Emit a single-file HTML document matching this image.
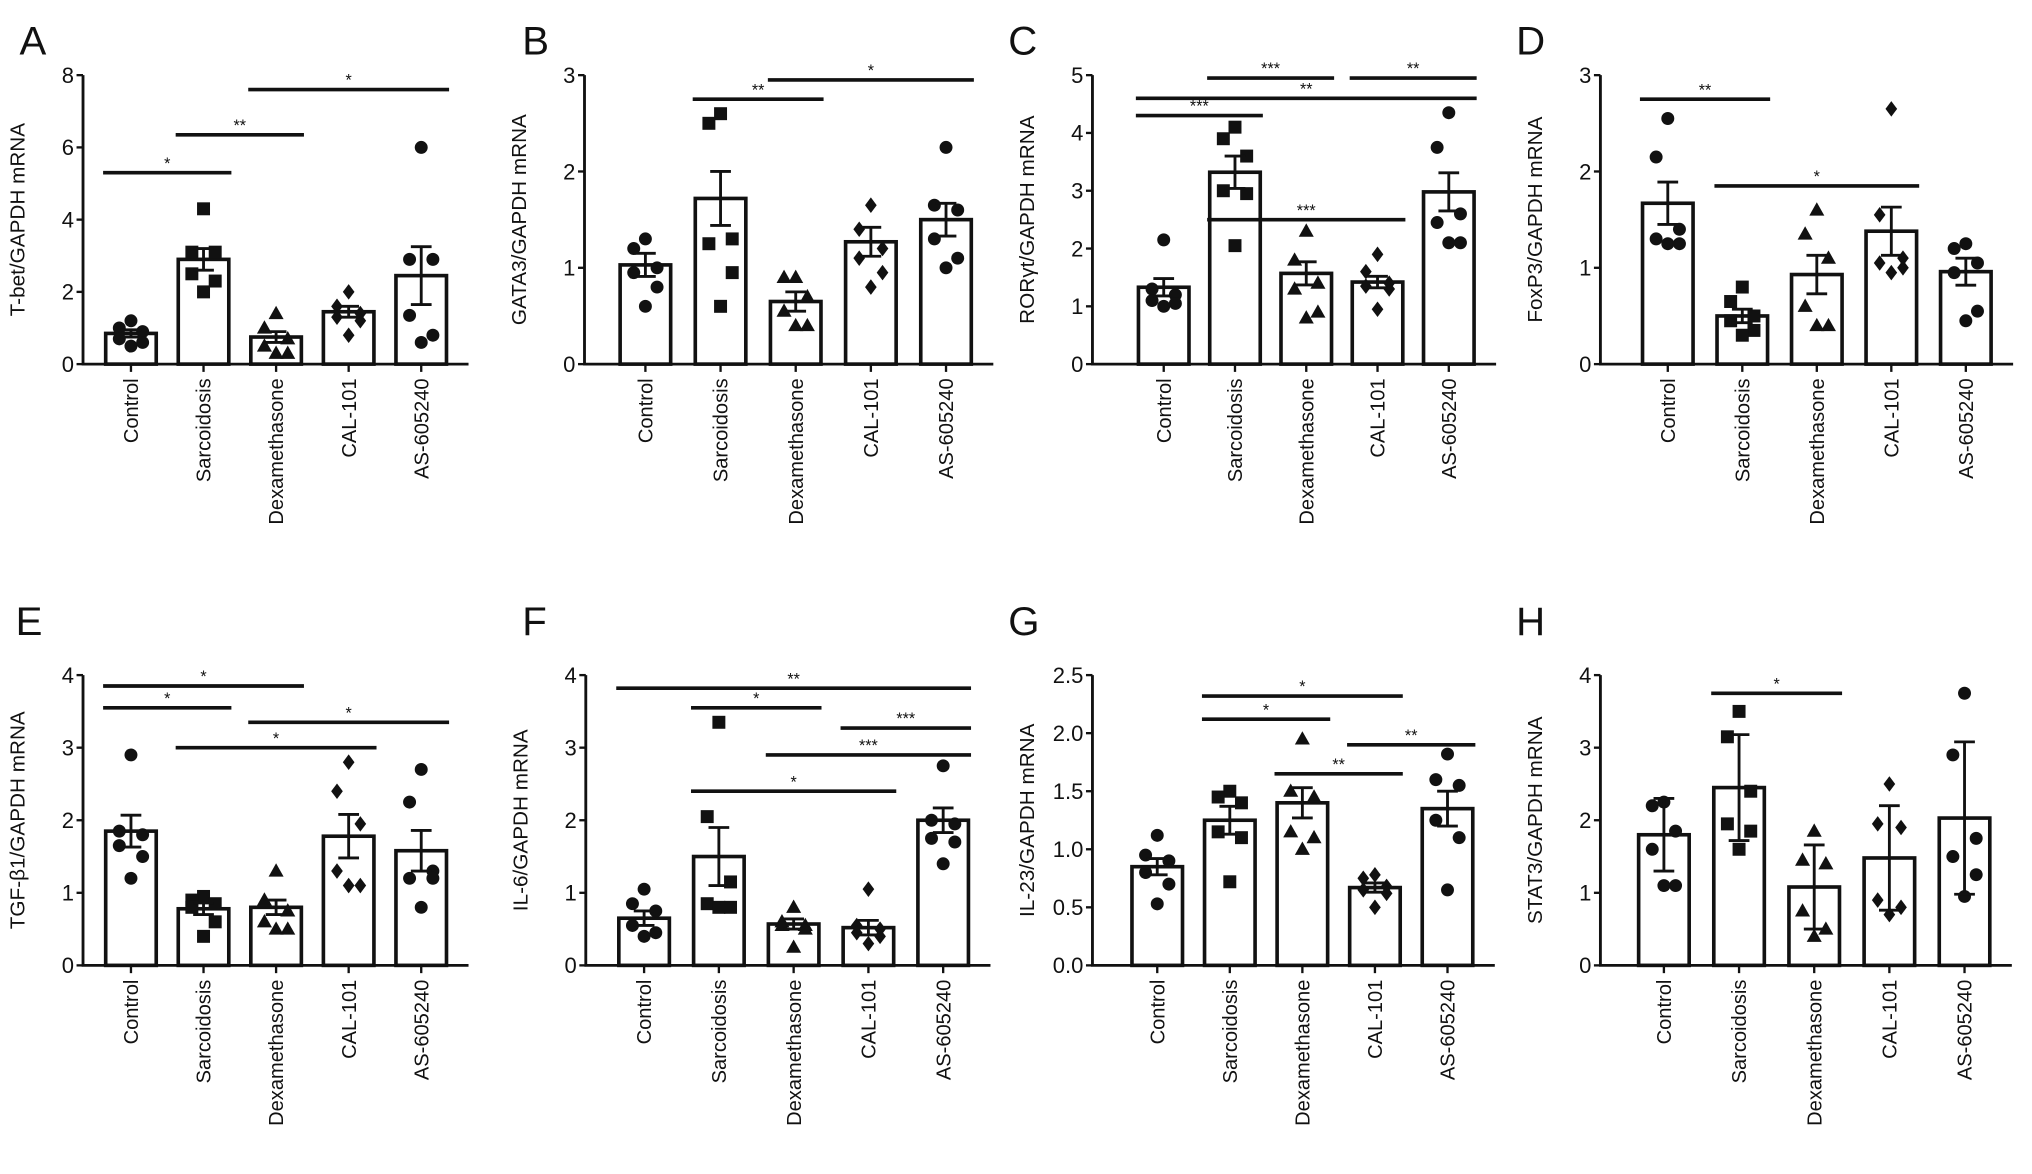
<!DOCTYPE html>
<html><head><meta charset="utf-8"><style>
html,body{margin:0;padding:0;background:#fff;}
svg{display:block;}
text{font-family:"Liberation Sans",sans-serif;fill:#111;}
</style></head><body>
<svg id="fig" width="2032" height="1174" viewBox="0 0 1568 906" xmlns="http://www.w3.org/2000/svg"></svg>
<script>
const categories = ["Control","Sarcoidosis","Dexamethasone","CAL-101","AS-605240"];
const panelLetters = ["A","B","C","D","E","F","G","H"];
const yTitles = ["T-bet/GAPDH mRNA","GATA3/GAPDH mRNA","RORγt/GAPDH mRNA","FoxP3/GAPDH mRNA","TGF-β1/GAPDH mRNA","IL-6/GAPDH mRNA","IL-23/GAPDH mRNA","STAT3/GAPDH mRNA"];
const yMax = [8,3,5,3,4,4,2.5,4];
const yTickLabels = [["0","2","4","6","8"],["0","1","2","3"],["0","1","2","3","4","5"],["0","1","2","3"],["0","1","2","3","4"],["0","1","2","3","4"],["0.0","0.5","1.0","1.5","2.0","2.5"],["0","1","2","3","4"]];
const means = [[0.85,2.9,0.75,1.45,2.45],[1.03,1.72,0.65,1.27,1.5],[1.33,3.32,1.57,1.42,2.98],[1.67,0.5,0.93,1.38,0.96],[1.85,0.78,0.8,1.78,1.58],[0.65,1.5,0.57,0.52,2.0],[0.85,1.25,1.4,0.67,1.35],[1.8,2.45,1.08,1.48,2.03]];
const errors = [[0.1,0.3,0.15,0.15,0.8],[0.12,0.28,0.1,0.15,0.17],[0.15,0.28,0.2,0.1,0.33],[0.22,0.07,0.2,0.25,0.14],[0.22,0.08,0.1,0.3,0.28],[0.1,0.4,0.07,0.1,0.17],[0.07,0.12,0.13,0.04,0.15],[0.5,0.73,0.58,0.72,1.05]];
const pointsA = [[1.2,1.0,0.9,0.7,0.6,0.5],[4.3,3.1,3.1,2.5,2.3,2.0],[1.4,1.0,0.7,0.5,0.3,0.3],[2.0,1.6,1.4,1.3,1.2,0.8],[6.0,2.9,2.9,1.35,0.8,0.6]];
const pointsB = [[1.3,1.2,1.0,0.95,0.8,0.6],[2.6,2.5,1.3,1.25,0.95,0.6],[0.9,0.9,0.7,0.55,0.4,0.4],[1.65,1.4,1.2,1.1,0.95,0.8],[2.25,1.65,1.6,1.3,1.1,1.0]];
const pointsC = [[2.15,1.3,1.2,1.1,1.05,1.0],[4.1,3.9,3.6,3.0,2.95,2.05],[2.3,1.8,1.4,1.3,0.9,0.8],[1.9,1.6,1.4,1.35,1.3,0.95],[4.35,3.75,2.6,2.45,2.1,2.1]];
const pointsD = [[2.55,2.15,1.4,1.3,1.25,1.25],[0.8,0.65,0.5,0.45,0.35,0.3],[1.6,1.35,1.1,0.6,0.4,0.4],[2.65,1.55,1.1,1.05,1.0,0.95],[1.25,1.2,1.05,0.95,0.55,0.45]];
const pointsE = [[2.9,1.85,1.8,1.65,1.5,1.2],[0.95,0.9,0.85,0.8,0.6,0.4],[1.3,0.9,0.75,0.6,0.5,0.5],[2.8,2.4,1.95,1.3,1.1,1.1],[2.7,2.25,1.3,1.2,1.2,0.8]];
const pointsF = [[1.05,0.85,0.75,0.55,0.45,0.4],[3.35,2.05,1.15,0.85,0.8,0.8],[0.8,0.6,0.55,0.55,0.5,0.25],[1.05,0.55,0.5,0.45,0.4,0.3],[2.75,2.0,1.95,1.75,1.7,1.4]];
const pointsG = [[1.12,0.95,0.9,0.8,0.7,0.53],[1.5,1.45,1.4,1.15,1.1,0.72],[1.95,1.5,1.45,1.15,1.1,1.0],[0.78,0.75,0.68,0.65,0.62,0.5],[1.82,1.6,1.55,1.25,1.1,0.65]];
const pointsH = [[2.25,2.2,1.85,1.6,1.1,1.1],[3.5,3.15,2.4,1.95,1.85,1.6],[1.85,1.45,1.4,0.75,0.5,0.4],[2.5,1.95,1.9,0.9,0.8,0.7],[3.75,2.9,1.75,1.5,1.25,0.95]];
const points = [pointsA,pointsB,pointsC,pointsD,pointsE,pointsF,pointsG,pointsH];
const sigA = [[0,1,5.3,"*"],[1,2,6.35,"**"],[2,4,7.6,"*"]];
const sigB = [[1,2,2.75,"**"],[2,4,2.95,"*"]];
const sigC = [[1,2,4.95,"***"],[3,4,4.95,"**"],[0,4,4.6,"**"],[0,1,4.3,"***"],[1,3,2.5,"***"]];
const sigD = [[0,1,2.75,"**"],[1,3,1.85,"*"]];
const sigE = [[0,2,3.85,"*"],[0,1,3.55,"*"],[2,4,3.35,"*"],[1,3,3.0,"*"]];
const sigF = [[0,4,3.82,"**"],[1,2,3.55,"*"],[3,4,3.27,"***"],[2,4,2.9,"***"],[1,3,2.4,"*"]];
const sigG = [[1,3,2.32,"*"],[1,2,2.12,"*"],[3,4,1.9,"**"],[2,3,1.65,"**"]];
const sigH = [[1,2,3.75,"*"]];
const sigs = [sigA,sigB,sigC,sigD,sigE,sigF,sigG,sigH];

const axisX = [64,451,843,1235,64,452,843,1235];
const firstBar = [101,498,898,1287,101,497,893,1284];
const barStep = [56,58,55,57.5,56,57.7,56,58];
const rowTop = [58,58,58,58,521,521,521,521];
const rowZero = [281,281,281,281,745,745,745,745];
const letterPos = [[15,42],[403,42],[778,42],[1170,42],[12,490],[403,490],[778,490],[1170,490]];
const shapes = ["circle","square","triangle","diamond","circle"];
const jitter = [0,-9,9,-9,9,0];

const NS="http://www.w3.org/2000/svg";
const svg=document.getElementById('fig');
function el(tag,attrs,parent){const e=document.createElementNS(NS,tag);for(const k in attrs)e.setAttribute(k,attrs[k]);(parent||svg).appendChild(e);return e;}

function marker(g,shape,x,y){
  let m;
  if(shape==="circle") m=el('circle',{cx:x,cy:y,r:5,fill:'#111'},g);
  else if(shape==="square") m=el('rect',{x:x-5,y:y-5,width:10,height:10,fill:'#111'},g);
  else if(shape==="triangle") m=el('polygon',{points:`${x},${y-6} ${x+5.8},${y+4.3} ${x-5.8},${y+4.3}`,fill:'#111'},g);
  else m=el('polygon',{points:`${x},${y-6} ${x+4.5},${y} ${x},${y+6} ${x-4.5},${y}`,fill:'#111'},g);
  
  
}

for(let p=0;p<8;p++){
  const g=el('g',{});
  
  
  const ax=axisX[p], top=rowTop[p], zero=rowZero[p];
  const yS=v=>zero-(v/yMax[p])*(zero-top);
  const xS=i=>firstBar[p]+i*barStep[p];
  const hw=19.5;
  const L=el('text',{x:letterPos[p][0],y:letterPos[p][1],'font-size':31},g);L.textContent=panelLetters[p];
  
  
  const tx=ax-45, ty=(top+zero)/2;
  const T=el('text',{x:tx,y:ty,'font-size':16,'text-anchor':'middle',transform:`rotate(-90 ${tx} ${ty})`},g);T.textContent=yTitles[p];
  
  
  for(let i=0;i<5;i++){
    const b=el('rect',{x:xS(i)-hw,y:yS(means[p][i]),width:hw*2,height:zero-yS(means[p][i]),fill:'#fff',stroke:'#111','stroke-width':2.8},g);
    
    
  }
  for(let i=0;i<5;i++){
    points[p][i].forEach((v,k)=>marker(g,shapes[i],xS(i)+jitter[k%jitter.length],yS(v)));
  }
  for(let i=0;i<5;i++){
    const x=xS(i),y1=yS(means[p][i]+errors[p][i]),y2=yS(Math.max(0,means[p][i]-errors[p][i]));
    const e=el('path',{d:`M${x},${y1}V${y2}M${x-8},${y1}H${x+8}M${x-8},${y2}H${x+8}`,stroke:'#111','stroke-width':2.2,fill:'none'},g);
    
    
  }
  const xEnd=xS(4)+hw+17;
  const axl=el('path',{d:`M${ax},${top}V${zero}H${xEnd}`,stroke:'#111','stroke-width':2.2,fill:'none'},g);
  
  
  const labs=yTickLabels[p];
  labs.forEach((lab,k)=>{
    const v=k*yMax[p]/(labs.length-1);
    const y=yS(v);
    el('line',{x1:ax-5,x2:ax,y1:y,y2:y,stroke:'#111','stroke-width':1.8},g);
    const t=el('text',{x:ax-7,y:y+6,'font-size':17,'text-anchor':'end'},g);t.textContent=lab;
    
    
  });
  for(let i=0;i<5;i++){
    const x=xS(i);
    el('line',{x1:x,x2:x,y1:zero,y2:zero+6,stroke:'#111','stroke-width':1.8},g);
    const t=el('text',{x:x+5.5,y:zero+11,'font-size':15.5,'text-anchor':'end',transform:`rotate(-90 ${x+5.5} ${zero+11})`},g);
    t.textContent=categories[i];
    
    
  }
  sigs[p].forEach(s=>{
    const x1=xS(s[0])-hw-2,x2=xS(s[1])+hw+2,y=yS(s[2]);
    const ln=el('line',{x1:x1,x2:x2,y1:y,y2:y,stroke:'#111','stroke-width':2.8},g);
    
    
    const t=el('text',{x:(x1+x2)/2,y:y-3,'font-size':12.5,'text-anchor':'middle'},g);t.textContent=s[3];
    
    
  });
}
</script>
</body></html>
